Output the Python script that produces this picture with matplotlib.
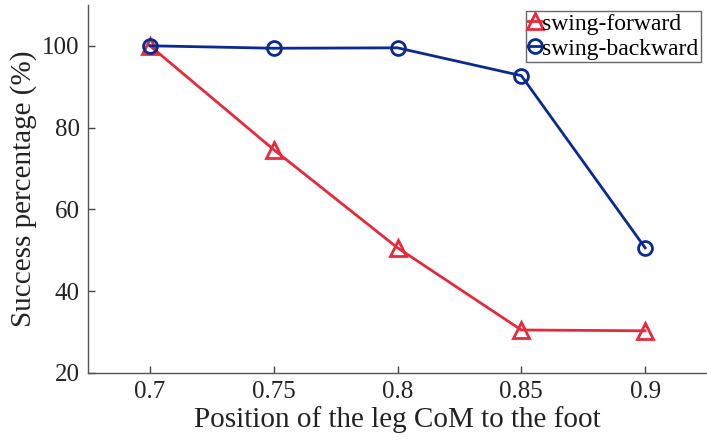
import matplotlib
matplotlib.use("Agg")
import matplotlib.pyplot as plt

com_pos = [0.7, 0.75, 0.8, 0.85, 0.9]
swing_forward = [100.0, 74.6, 50.6, 30.5, 30.3]
swing_backward = [100.0, 99.4, 99.5, 92.7, 50.6]
x_ticks = [0.7, 0.75, 0.8, 0.85, 0.9]
x_labels = ["0.7", "0.75", "0.8", "0.85", "0.9"]
y_ticks = [20, 40, 60, 80, 100]

plt.rcParams["font.family"] = ["Liberation Serif", "DejaVu Serif"]

fig = plt.figure(figsize=(7.07, 4.45), dpi=100)
ax = fig.add_axes([0.1245, 0.162, 0.8755, 0.827])

red = "#e8293c"
blue = "#0a2a93"
ax.plot(com_pos, swing_forward, "-^", color=red, lw=2, ms=11,
        mfc="none", mew=2, label="swing-forward")
ax.plot(com_pos, swing_backward, "-o", color=blue, lw=2, ms=10,
        mfc="none", mew=2, label="swing-backward")

ax.set_xlim(0.675, 0.925)
ax.set_ylim(20, 110)
ax.set_xticks(x_ticks)
ax.set_xticklabels(x_labels)
ax.set_yticks(y_ticks)
ax.tick_params(direction="in", length=5, width=1, colors="#444444",
               labelcolor="#222222", labelsize=18, pad=6)
for side in ["top", "right"]:
    ax.spines[side].set_visible(False)
for side in ["left", "bottom"]:
    ax.spines[side].set_color("#555555")
    ax.spines[side].set_linewidth(1)

ax.set_xlabel("Position of the leg CoM to the foot", fontsize=21, color="#222222", labelpad=2)
ax.set_ylabel("Success percentage (%)", fontsize=21, color="#222222", labelpad=4)

leg = ax.legend(loc="upper right", fontsize=17, handlelength=0.55, handletextpad=0.05,
                borderpad=0.1, labelspacing=0.15, fancybox=False, framealpha=1,
                borderaxespad=0.25)
leg.get_frame().set_edgecolor("#666666")
leg.get_frame().set_linewidth(1)

fig.savefig("out.png", dpi=100)
